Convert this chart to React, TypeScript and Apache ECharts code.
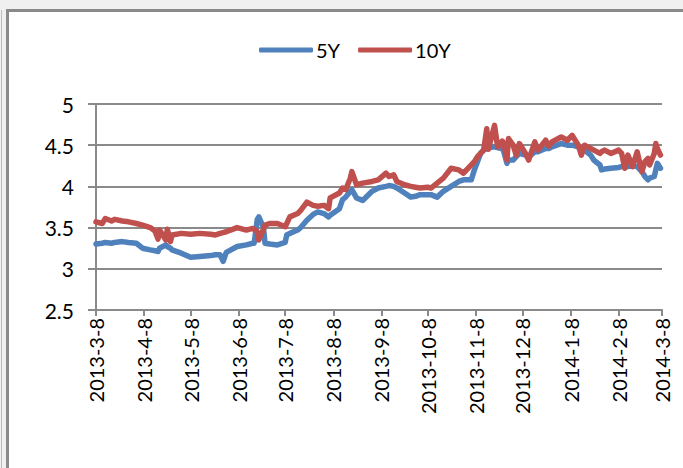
import React, { useEffect, useRef } from "react";
import * as echarts from "echarts";

const dates = [
  "2013-3-8","2013-3-12","2013-3-14","2013-3-18","2013-3-20","2013-3-25","2013-3-29","2013-4-3","2013-4-7","2013-4-12",
  "2013-4-15","2013-4-17","2013-4-18","2013-4-22","2013-4-23","2013-4-25","2013-4-26","2013-5-2","2013-5-8","2013-5-14",
  "2013-5-21","2013-5-24","2013-5-27","2013-5-29","2013-5-31","2013-6-7","2013-6-13","2013-6-17","2013-6-18","2013-6-20",
  "2013-6-21","2013-6-24","2013-6-25","2013-6-28","2013-7-3","2013-7-8","2013-7-9","2013-7-11","2013-7-16","2013-7-18",
  "2013-7-22","2013-7-26","2013-7-29","2013-8-2","2013-8-5","2013-8-6","2013-8-12","2013-8-14","2013-8-16","2013-8-19",
  "2013-8-20","2013-8-23","2013-8-27","2013-9-2","2013-9-6","2013-9-11","2013-9-13","2013-9-16","2013-9-18","2013-9-23",
  "2013-9-27","2013-9-30","2013-10-3","2013-10-8","2013-10-10","2013-10-14","2013-10-18","2013-10-23","2013-10-28","2013-10-31",
  "2013-11-5","2013-11-7","2013-11-9","2013-11-11","2013-11-13","2013-11-15","2013-11-16","2013-11-20","2013-11-22","2013-11-25",
  "2013-11-26","2013-11-28","2013-11-29","2013-12-2","2013-12-4","2013-12-6","2013-12-10","2013-12-12","2013-12-16","2013-12-18",
  "2013-12-23","2013-12-25","2013-12-27","2014-1-2","2014-1-6","2014-1-9","2014-1-13","2014-1-15","2014-1-17","2014-1-21",
  "2014-1-23","2014-1-27","2014-1-28","2014-1-30","2014-2-3","2014-2-8","2014-2-10","2014-2-12","2014-2-14","2014-2-17",
  "2014-2-20","2014-2-23","2014-2-25","2014-2-27","2014-2-28","2014-3-3","2014-3-4","2014-3-5","2014-3-7"
];

const y5 = [
  3.30,3.31,3.32,3.31,3.32,3.33,3.32,3.31,3.25,3.23,
  3.22,3.21,3.25,3.29,3.27,3.25,3.23,3.19,3.14,3.15,
  3.16,3.17,3.17,3.09,3.20,3.27,3.29,3.31,3.31,3.60,
  3.63,3.50,3.31,3.30,3.29,3.32,3.41,3.43,3.47,3.50,
  3.59,3.66,3.69,3.67,3.63,3.65,3.73,3.84,3.87,3.94,
  3.96,3.86,3.83,3.94,3.98,4.00,4.01,4.00,3.98,3.92,
  3.87,3.88,3.90,3.90,3.90,3.87,3.94,4.00,4.06,4.08,
  4.08,4.20,4.30,4.40,4.44,4.46,4.47,4.48,4.47,4.46,
  4.42,4.28,4.32,4.32,4.36,4.40,4.38,4.36,4.42,4.42,
  4.46,4.46,4.48,4.52,4.50,4.50,4.48,4.44,4.44,4.38,
  4.32,4.26,4.20,4.21,4.22,4.23,4.24,4.24,4.24,4.25,
  4.24,4.18,4.12,4.08,4.10,4.12,4.20,4.28,4.22
];

const y10 = [
  3.57,3.55,3.61,3.58,3.60,3.58,3.57,3.55,3.53,3.50,
  3.46,3.36,3.47,3.35,3.48,3.33,3.41,3.43,3.42,3.43,
  3.42,3.41,3.43,3.44,3.45,3.50,3.47,3.49,3.48,3.45,
  3.35,3.48,3.53,3.55,3.55,3.51,3.55,3.63,3.67,3.71,
  3.81,3.77,3.76,3.77,3.73,3.86,3.92,3.98,3.96,4.10,
  4.18,4.02,4.04,4.06,4.08,4.16,4.12,4.14,4.06,4.02,
  4.00,3.99,3.98,3.99,3.98,4.04,4.10,4.22,4.20,4.16,
  4.26,4.30,4.36,4.40,4.44,4.70,4.45,4.74,4.48,4.55,
  4.52,4.32,4.58,4.50,4.38,4.52,4.40,4.32,4.54,4.44,
  4.56,4.49,4.54,4.60,4.56,4.62,4.50,4.38,4.50,4.46,
  4.44,4.40,4.42,4.44,4.40,4.44,4.40,4.22,4.38,4.24,
  4.42,4.18,4.30,4.34,4.26,4.40,4.52,4.46,4.38
];

const tickDates = [
  "2013-3-8","2013-4-8","2013-5-8","2013-6-8","2013-7-8","2013-8-8","2013-9-8",
  "2013-10-8","2013-11-8","2013-12-8","2014-1-8","2014-2-8","2014-3-8"
];

const seriesNames = ["5Y", "10Y"];
const yTicks = { min: 2.5, max: 5, interval: 0.5 };

const DAY = 86400000;
const toTs = (s: string) => {
  const [y, m, d] = s.split("-").map(Number);
  return Date.UTC(y, m - 1, d);
};
const T0 = toTs(tickDates[0]);
const toDay = (s: string) => Math.round((toTs(s) - T0) / DAY);
const dayLabel = (v: number) => {
  const dt = new Date(T0 + Math.round(v) * DAY);
  return `${dt.getUTCFullYear()}-${dt.getUTCMonth() + 1}-${dt.getUTCDate()}`;
};

const FONT = "Lato";

export default function App() {
  const ref = useRef<HTMLDivElement>(null);
  useEffect(() => {
    document.body.style.margin = "0";
    document.body.style.overflow = "hidden";
    if (!ref.current) return;
    const chart = echarts.init(ref.current, undefined, { renderer: "svg" });
    const ticks = tickDates.map(toDay);
    const gray = "#8a8a8a";
    chart.setOption({
      animation: false,
      backgroundColor: "transparent",
      textStyle: { fontFamily: FONT },
      grid: { left: 96, right: 21, top: 104, bottom: 158, containLabel: false },
      legend: {
        left: 254,
        top: 35,
        itemWidth: 54,
        itemHeight: 5,
        itemGap: 18,
        icon: "roundRect",
        textStyle: { fontFamily: FONT, fontSize: 20, color: "#000", padding: [0, 0, 0, -2] },
        data: seriesNames,
      },
      xAxis: {
        type: "value",
        min: ticks[0],
        max: ticks[ticks.length - 1],
        axisLine: { show: true, lineStyle: { color: gray, width: 2 } },
        axisTick: { show: true, length: 6, customValues: ticks, lineStyle: { color: gray, width: 2 } },
        axisLabel: {
          customValues: ticks,
          rotate: 90,
          margin: 8,
          fontFamily: FONT,
          fontSize: 20,
          color: "#000",
          formatter: (v: number) => dayLabel(v),
        },
        splitLine: { show: false },
      },
      yAxis: {
        type: "value",
        min: yTicks.min,
        max: yTicks.max,
        interval: yTicks.interval,
        axisLine: { show: true, lineStyle: { color: gray, width: 2 } },
        axisTick: { show: true, length: 8, lineStyle: { color: gray, width: 2 } },
        axisLabel: { margin: 22, fontFamily: FONT, fontSize: 21, color: "#000" },
        splitLine: { show: true, lineStyle: { color: gray, width: 2 } },
      },
      series: [
        {
          name: seriesNames[0],
          type: "line",
          showSymbol: false,
          symbol: "none",
          color: "#4F81BD",
          lineStyle: { width: 5.5, color: "#4F81BD", cap: "round", join: "round" },
          data: dates.map((d, i) => [toDay(d), y5[i]]),
          z: 2,
        },
        {
          name: seriesNames[1],
          type: "line",
          showSymbol: false,
          symbol: "none",
          color: "#C0504D",
          lineStyle: { width: 5.5, color: "#C0504D", cap: "round", join: "round" },
          data: dates.map((d, i) => [toDay(d), y10[i]]),
          z: 3,
        },
      ],
    });
    return () => chart.dispose();
  }, []);

  return (
    <div style={{ position: "absolute", left: 0, top: 0, width: 683, height: 468, background: "#f0f0f0", overflow: "hidden" }}>
      <div style={{ position: "absolute", left: 1, top: 10, width: 1, height: 458, background: "#bdbdbd" }} />
      <div
        style={{
          position: "absolute",
          left: 6,
          top: 9,
          width: 674,
          height: 456,
          background: "#fff",
          borderTop: "3px solid #8a8a8a",
          borderLeft: "3px solid #8a8a8a",
        }}
      />
      <div ref={ref} style={{ position: "absolute", left: 0, top: 0, width: 683, height: 468 }} />
    </div>
  );
}
